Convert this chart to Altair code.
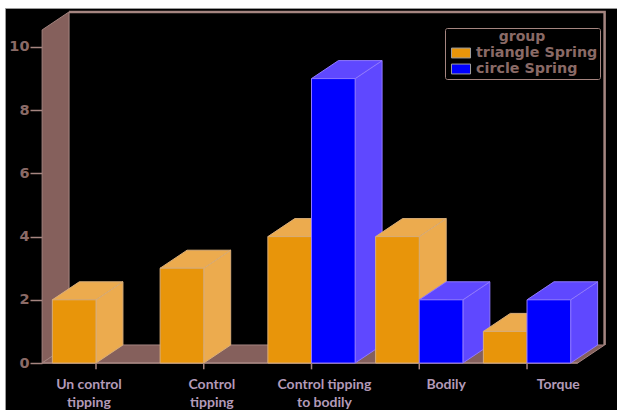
import altair as alt
import pandas as pd

categories = ["Un control\ntipping", "Control\ntipping", "Control tipping\nto bodily", "Bodily", "Torque"]
triangle_spring = [2, 3, 4, 4, 1]
circle_spring = [0, 0, 9, 2, 2]
series_names = ["triangle Spring", "circle Spring"]

# Scale and projection settings, in axis units
X_DOMAIN = [-0.8445, 4.835]
Y_DOMAIN = [-1.487, 11.234]
BAR_W = 0.405
DEPTH_X = 0.25
DEPTH_Y = 0.57
FLOOR_LEFT, FLOOR_RIGHT = -0.5, 4.47
WALL_TOP = 10.54
LABEL_SHIFT = [-0.065, 0.075, 0.12, 0.25, 0.29]

FRONT = {series_names[0]: "#e8950a", series_names[1]: "#0000ff"}
FACE = {series_names[0]: "#ecab4e", series_names[1]: "#5f48ff"}
EDGE = {series_names[0]: "#d9ad78", series_names[1]: "#8f78ff"}
WALL = "#85605c"
WALL_EDGE = "#a58580"
TEXT = "#8a6a66"

x_scale = alt.Scale(domain=X_DOMAIN, nice=False, zero=False)
y_scale = alt.Scale(domain=Y_DOMAIN, nice=False, zero=False)
X = alt.X("x:Q", scale=x_scale, axis=None)
# Every layer carries the same value axis, placed on the front edge of the wall
Y = alt.Y("y:Q", scale=y_scale, axis=alt.Axis(
    values=[0, 2, 4, 6, 8, 10], offset=-37, domain=False, grid=False, tickColor=WALL_EDGE,
    tickSize=12, tickWidth=1.5, labelColor=TEXT, labelFontSize=14.5, labelFont="DejaVu Sans",
    labelFontWeight="bold", labelPadding=1, title=None))


def side_face(x0, x1, v_low, v_high, fill, stroke):
    """Parallelogram receding from a vertical front edge."""
    df = pd.DataFrame({"x": [x0, x1], "y": [v_high, v_high + DEPTH_Y], "y2": [v_low, v_low + DEPTH_Y]})
    return alt.Chart(df).mark_area(fill=fill, stroke=stroke, strokeWidth=1, opacity=1).encode(
        x=X, y=Y, y2="y2:Q")


def flat_face(x_left, x_right, v, fill, stroke):
    """Parallelogram receding from a horizontal front edge."""
    df = pd.DataFrame({"y": [v, v + DEPTH_Y], "x": [x_left, x_left + DEPTH_X], "x2": [x_right, x_right + DEPTH_X]})
    return alt.Chart(df).mark_area(orient="horizontal", fill=fill, stroke=stroke, strokeWidth=1, opacity=1).encode(
        x=X, y=Y, x2="x2:Q")


layers = []

# Back wall, floor and the outline of the box
layers.append(side_face(FLOOR_LEFT, FLOOR_LEFT + DEPTH_X, 0, WALL_TOP, WALL, WALL_EDGE))
layers.append(flat_face(FLOOR_LEFT, FLOOR_RIGHT, 0, WALL, WALL_EDGE))
back_x = FLOOR_RIGHT + DEPTH_X
frame = pd.DataFrame({
    "x": [FLOOR_LEFT + DEPTH_X, back_x, back_x],
    "y": [WALL_TOP + DEPTH_Y, WALL_TOP + DEPTH_Y, DEPTH_Y],
    "o": [0, 1, 2],
})
layers.append(alt.Chart(frame).mark_line(color=WALL_EDGE, strokeWidth=2.5).encode(x=X, y=Y, order="o:Q"))

# Baseline
base = pd.DataFrame({"x": [FLOOR_LEFT], "x2": [FLOOR_RIGHT], "y": [0]})
layers.append(alt.Chart(base).mark_rule(color=WALL_EDGE, strokeWidth=1.5).encode(x=X, x2="x2:Q", y=Y))

# Bars, drawn left to right so that nearer faces cover farther ones
color_scale = alt.Scale(domain=series_names, range=[FRONT[s] for s in series_names])
legend = alt.Legend(
    title="group", orient="none", legendX=440, legendY=20, direction="vertical",
    fillColor="#000000", strokeColor=WALL_EDGE, padding=2, cornerRadius=2,
    titleColor=TEXT, titleFontSize=14, titleFont="DejaVu Sans", titleFontWeight="bold",
    titleAnchor="middle", titlePadding=1,
    labelColor=TEXT, labelFontSize=14.3, labelFont="DejaVu Sans", labelFontWeight="bold", labelOffset=7,
    # A wide swatch on a compact row: the path overhangs its nominal square
    symbolType="M-1.27,-0.66H1.27V0.66H-1.27Z", symbolSize=225, symbolOffset=6,
    symbolStrokeColor="#a0a0a0", symbolStrokeWidth=1, symbolOpacity=1, rowPadding=0,
)

for i in range(len(categories)):
    for name, values, left in [(series_names[0], triangle_spring, i - BAR_W),
                               (series_names[1], circle_spring, i)]:
        v = values[i]
        if v == 0:
            continue
        right = left + BAR_W
        layers.append(side_face(right, right + DEPTH_X, 0, v, FACE[name], EDGE[name]))
        layers.append(flat_face(left, right, v, FACE[name], EDGE[name]))
        front = pd.DataFrame({"x": [left], "x2": [right], "y": [v], "y2": [0], "group": [name]})
        layers.append(alt.Chart(front).mark_rect(stroke=EDGE[name], strokeWidth=1, opacity=1).encode(
            x=X, x2="x2:Q", y=Y, y2="y2:Q",
            color=alt.Color("group:N", scale=color_scale, legend=legend),
        ))

# Category ticks and labels
tick_frame = pd.DataFrame({"x": list(range(len(categories))), "y": [0] * len(categories), "y2": [-0.2] * len(categories)})
layers.append(alt.Chart(tick_frame).mark_rule(color=WALL_EDGE, strokeWidth=1.5).encode(x=X, y=Y, y2="y2:Q"))

label_frame = pd.DataFrame({
    "x": [i + s for i, s in enumerate(LABEL_SHIFT)],
    "y": [-0.48] * len(categories),
    "label": categories,
})
layers.append(alt.Chart(label_frame).mark_text(
    font="Lato", fontWeight="bold", fontSize=14, color="#b39ab8", baseline="top", align="center",
    lineBreak="\n", lineHeight=18,
).encode(x=X, y=Y, text="label:N"))

chart = alt.layer(*layers).resolve_scale(color="shared").properties(
    width=612,
    height=402,
    padding={"left": 5, "top": 8, "right": 0, "bottom": 0},
    autosize=alt.AutoSizeParams(type="none"),
    background="#ffffff",
).configure_view(fill="#000000", stroke="#9a9a9a", strokeWidth=1)

chart.save("out.html", embed_options={"renderer": "svg", "actions": False})
